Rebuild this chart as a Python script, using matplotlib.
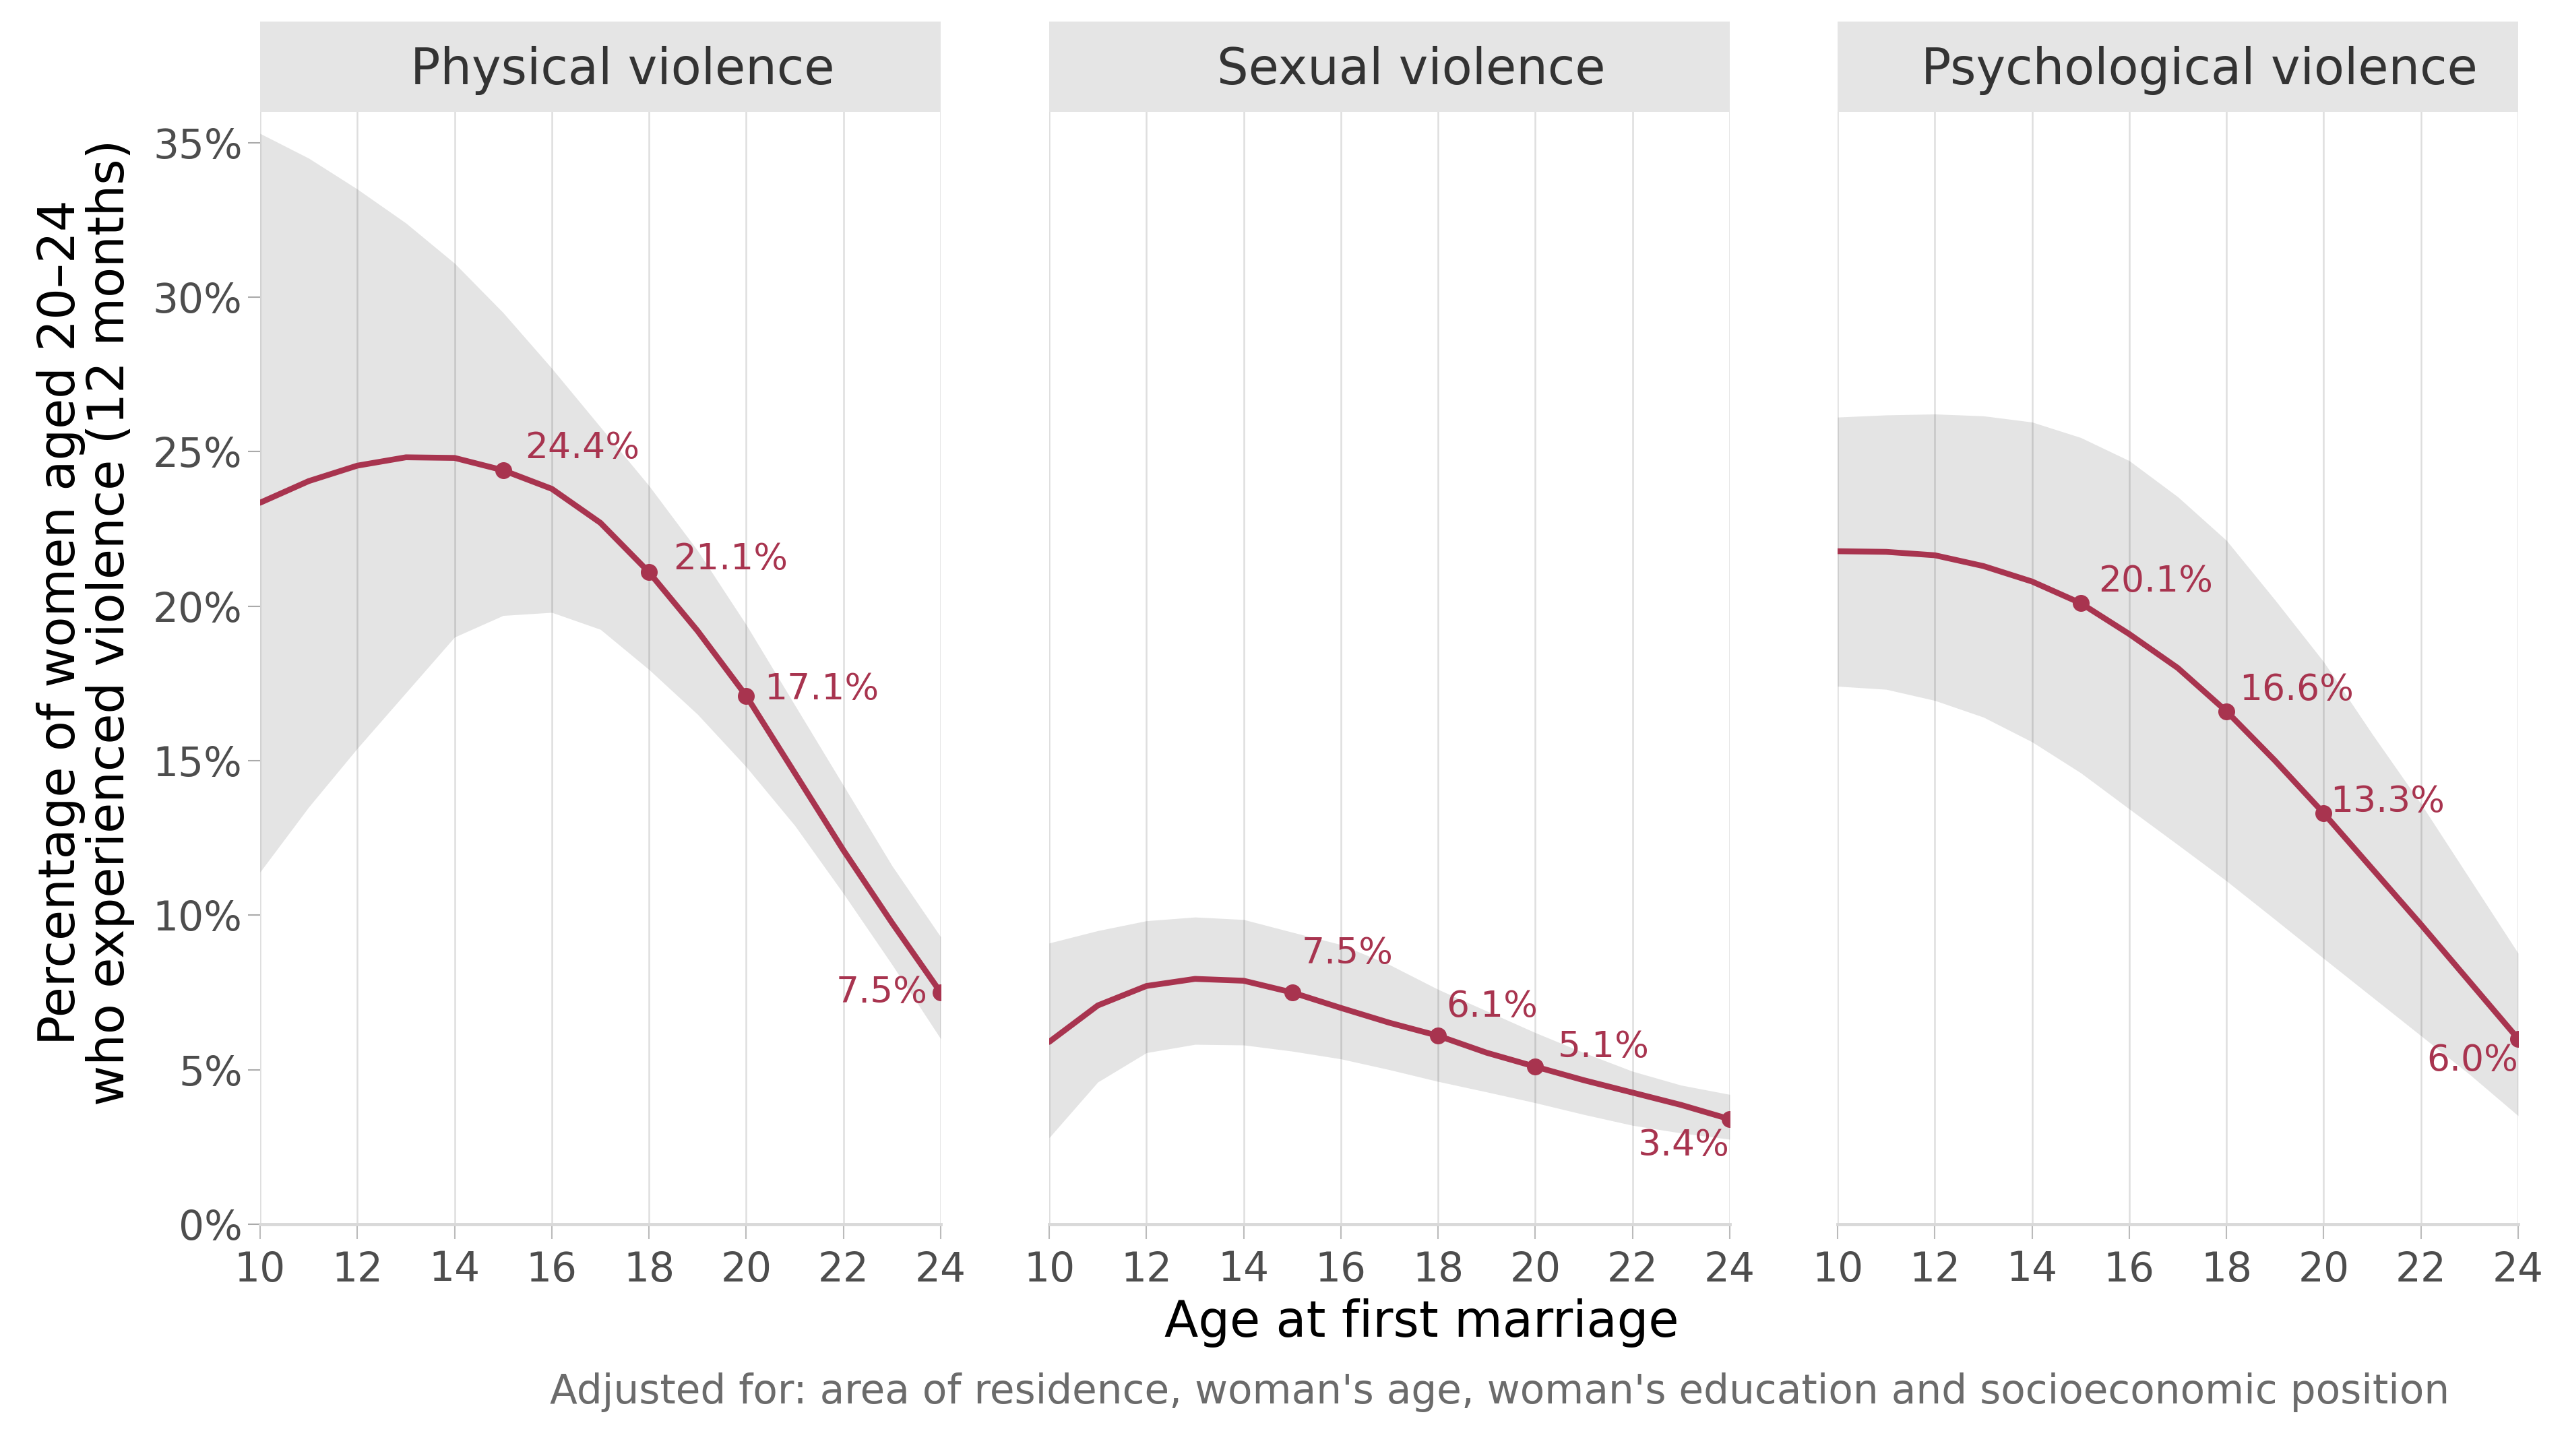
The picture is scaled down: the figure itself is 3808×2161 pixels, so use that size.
import matplotlib
matplotlib.use("Agg")
import matplotlib.pyplot as plt

# ages on the x axis (one point per year)
ages = [10, 11, 12, 13, 14, 15, 16, 17, 18, 19, 20, 21, 22, 23, 24]
panel_titles = ["Physical violence", "Sexual violence", "Psychological violence"]

physical = [23.35, 24.05, 24.55, 24.82, 24.8, 24.4, 23.8, 22.7, 21.1, 19.2, 17.1, 14.6, 12.1, 9.75, 7.5]
physical_hi = [35.3, 34.5, 33.5, 32.4, 31.1, 29.5, 27.7, 25.8, 23.9, 21.8, 19.4, 16.8, 14.2, 11.6, 9.3]
physical_lo = [11.4, 13.5, 15.4, 17.2, 19.0, 19.7, 19.8, 19.25, 17.95, 16.5, 14.8, 12.9, 10.7, 8.4, 6.0]

sexual = [5.9, 7.08, 7.71, 7.94, 7.88, 7.5, 7.0, 6.52, 6.1, 5.55, 5.1, 4.66, 4.26, 3.86, 3.4]
sexual_hi = [9.1, 9.5, 9.82, 9.94, 9.86, 9.45, 9.05, 8.4, 7.6, 6.9, 6.2, 5.55, 4.95, 4.5, 4.2]
sexual_lo = [2.8, 4.6, 5.55, 5.82, 5.8, 5.6, 5.35, 5.0, 4.62, 4.28, 3.93, 3.55, 3.2, 2.95, 2.75]

psych = [21.78, 21.76, 21.65, 21.3, 20.8, 20.1, 19.1, 18.0, 16.6, 15.0, 13.3, 11.5, 9.7, 7.85, 6.0]
psych_hi = [26.12, 26.19, 26.22, 26.16, 25.96, 25.46, 24.71, 23.54, 22.13, 20.2, 18.2, 15.86, 13.61, 11.19, 8.77]
psych_lo = [17.41, 17.31, 16.95, 16.41, 15.61, 14.61, 13.44, 12.28, 11.11, 9.86, 8.6, 7.35, 6.1, 4.85, 3.51]

# labelled points
label_ages = [15, 18, 20, 24]
physical_labels = [24.4, 21.1, 17.1, 7.5]
sexual_labels = [7.5, 6.1, 5.1, 3.4]
psych_labels = [20.1, 16.6, 13.3, 6.0]

lines = [physical, sexual, psych]
highs = [physical_hi, sexual_hi, psych_hi]
lows = [physical_lo, sexual_lo, psych_lo]
labels = [physical_labels, sexual_labels, psych_labels]

# where each label sits relative to its point (points), and alignment
label_offsets = [
    [(23, 24, "left"), (26, 14, "left"), (19, 7, "left"), (-14, 0, "right")],
    [(10, 42, "left"), (9, 31, "left"), (24, 21, "left"), (0, -28, "right")],
    [(19, 23, "left"), (14, 23, "left"), (7, 12, "left"), (0, -23, "right")],
]

red = "#A8344F"
W, H = 3808, 2161
fig = plt.figure(figsize=(W / 100, H / 100), dpi=100)

lefts = [386, 1557, 2727]
pw = 1010
bottom = 1 - 1817 / H
top = 1 - 166 / H

for i in range(3):
    ax = fig.add_axes([lefts[i] / W, bottom, pw / W, top - bottom])
    ax.fill_between(ages, lows[i], highs[i], color="black", alpha=0.105, lw=0, zorder=2)
    ax.plot(ages, lines[i], color=red, lw=6.2, zorder=3, solid_capstyle="round")
    ax.plot(label_ages, labels[i], "o", color=red, ms=17, zorder=4)
    for a, v, off in zip(label_ages, labels[i], label_offsets[i]):
        ax.annotate(f"{v:.1f}%", (a, v), xytext=(off[0], off[1]), textcoords="offset points",
                    ha=off[2], va="center", fontsize=38.5, color=red, zorder=5)

    ax.set_xlim(10, 24)
    ax.set_ylim(0, 36)
    ax.set_xticks(range(10, 25, 2))
    ax.set_yticks(range(0, 36, 5))
    ax.set_yticklabels([f"{v}%" for v in range(0, 36, 5)])
    ax.grid(axis="x", color="#DEDEDE", lw=1.8, zorder=1)
    ax.set_axisbelow(True)
    for s in ["top", "right", "left"]:
        ax.spines[s].set_visible(False)
    ax.spines["bottom"].set_color("#D9D9D9")
    ax.spines["bottom"].set_linewidth(3.5)
    ax.tick_params(axis="x", length=16, width=1.5, color="#BBBBBB", pad=12,
                   labelsize=43, labelcolor="#4D4D4D")
    ax.tick_params(axis="y", length=13, width=1.5, color="#AAAAAA", pad=6,
                   labelsize=43, labelcolor="#4D4D4D")
    if i > 0:
        ax.tick_params(axis="y", left=False, labelleft=False)

    # facet strip
    sx = fig.add_axes([lefts[i] / W, top, pw / W, (166 - 32) / H])
    sx.set_facecolor("#E5E5E5")
    sx.set_xticks([])
    sx.set_yticks([])
    for s in sx.spines.values():
        s.set_visible(False)
    sx.text(0.532, 0.46, panel_titles[i], ha="center", va="center",
            fontsize=53, color="#333333", transform=sx.transAxes)

fig.text(2110 / W, 1 - 1964 / H, "Age at first marriage", ha="center", va="center",
         fontsize=53, color="black")
fig.text(127 / W, 1 - 924 / H, "Percentage of women aged 20\u201324\nwho experienced violence (12 months)",
         ha="center", va="center", rotation=90, multialignment="center",
         fontsize=53, color="black", linespacing=1.0)
fig.text(2226 / W, 1 - 2066 / H,
         "Adjusted for: area of residence, woman's age, woman's education and socioeconomic position",
         ha="center", va="center", fontsize=43, color="#6B6B6B")

fig.savefig("out.png", dpi=100, facecolor="white")
